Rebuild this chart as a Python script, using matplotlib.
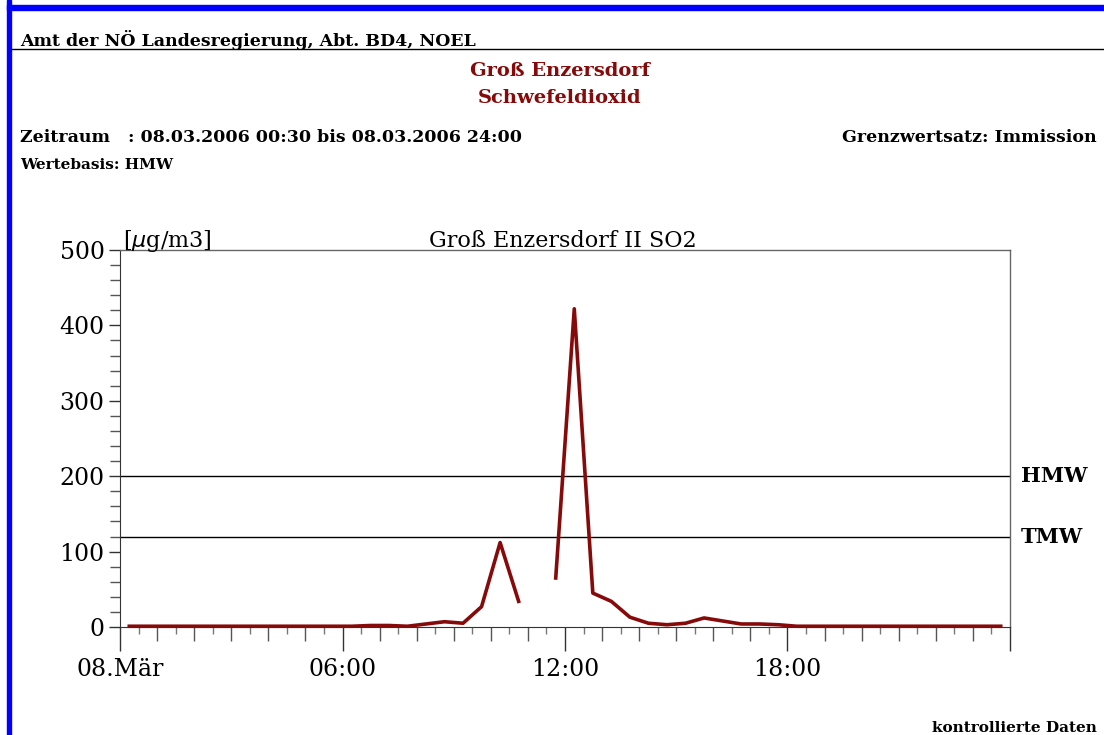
import matplotlib
matplotlib.use("Agg")
import matplotlib.pyplot as plt
import numpy as np
from matplotlib.patches import Rectangle
from matplotlib.lines import Line2D

# half-hour means (HMW), plotted at the middle of each interval
hours = np.arange(0.25, 24.0, 0.5)
so2 = [1, 1, 1, 1, 1, 1, 1, 1, 1, 1, 1, 1, 1,
       2, 2, 1, 4, 7, 5, 27, 112, 34, np.nan, 65, 422, 45, 34, 13,
       5, 3, 5, 12, 8, 4, 4, 3,
       1, 1, 1, 1, 1, 1, 1, 1, 1, 1, 1, 1]
limits = [200, 120]
limit_names = ["HMW", "TMW"]
y_ticks = [0, 100, 200, 300, 400, 500]
x_ticks = [0, 6, 12, 18, 24]
x_labels = ["08.Mär", "06:00", "12:00", "18:00", ""]

W, H = 1104, 735
DARKRED = "#870a0a"
SERIF = "DejaVu Serif"

plt.rcParams["font.family"] = SERIF

fig = plt.figure(figsize=(W / 100, H / 100), dpi=100)


def fx(x):
    return x / W


def fy(y):
    return 1 - y / H


# blue frame on the left and top
fig.patches.append(Rectangle((fx(7), 0), fx(4), 1, transform=fig.transFigure,
                             color="#0000ff", zorder=0))
fig.patches.append(Rectangle((fx(7), fy(10)), 1, 5 / H, transform=fig.transFigure,
                             color="#0000ff", zorder=0))
fig.lines.append(Line2D([fx(11), 1], [fy(49), fy(49)], transform=fig.transFigure,
                        color="black", lw=1))

# header texts
fig.text(fx(20), fy(40), "Amt der NÖ Landesregierung, Abt. BD4, NOEL",
         fontsize=12.5, fontweight="bold", va="center", ha="left")
fig.text(fx(560), fy(71), "Groß Enzersdorf", fontsize=14, fontweight="bold",
         color=DARKRED, va="center", ha="center")
fig.text(fx(560), fy(98), "Schwefeldioxid", fontsize=14, fontweight="bold",
         color=DARKRED, va="center", ha="center")
fig.text(fx(20), fy(138), "Zeitraum   : 08.03.2006 00:30 bis 08.03.2006 24:00",
         fontsize=12.5, fontweight="bold", va="center", ha="left")
fig.text(fx(1097), fy(138), "Grenzwertsatz: Immission",
         fontsize=12.5, fontweight="bold", va="center", ha="right")
fig.text(fx(20), fy(165), "Wertebasis: HMW",
         fontsize=11, fontweight="bold", va="center", ha="left")
fig.text(fx(1097), fy(728), "kontrollierte Daten",
         fontsize=11, fontweight="bold", va="center", ha="right")

# plot area
ax = fig.add_axes([fx(120), fy(627), fx(1010) - fx(120), (627 - 250) / H])
ax.plot(hours, so2, color=DARKRED, lw=2.6, zorder=3, clip_on=False)
for val, name in zip(limits, limit_names):
    ax.axhline(val, color="black", lw=1, zorder=2)
    ax.text(1.012, val, name, transform=ax.get_yaxis_transform(),
            fontsize=15, fontweight="bold", va="center", ha="left")

ax.set_xlim(0, 24)
ax.set_ylim(0, 500)

ax.set_yticks(y_ticks)
ax.set_yticks(np.arange(0, 501, 20), minor=True)
ax.set_xticks(x_ticks)
ax.set_xticklabels(x_labels)
ax.set_xticks(np.arange(0, 25, 1), minor=True)

ax.tick_params(axis="y", which="major", length=8, width=1, pad=3, labelsize=17,
               color="#333333")
ax.tick_params(axis="y", which="minor", length=7, width=1, color="#555555")
ax.tick_params(axis="x", which="major", length=17, width=1, pad=5, labelsize=17,
               color="#333333")
ax.tick_params(axis="x", which="minor", length=10, width=1, color="#555555")

# half-hour ticks on a second bottom axis
sec = ax.secondary_xaxis("bottom")
sec.set_xticks(np.arange(0.5, 24, 1))
sec.set_xticklabels([])
sec.tick_params(length=5, width=1, color="#777777")
sec.spines["bottom"].set_visible(False)

for side in ["top", "right"]:
    ax.spines[side].set_color("#666666")
    ax.spines[side].set_linewidth(1)
ax.spines["left"].set_color("#333333")
ax.spines["bottom"].set_color("#333333")

ax.text(0.003, 1.009, r"[$\mu$g/m3]", transform=ax.transAxes,
        fontsize=16, va="baseline", ha="left")
ax.text(0.498, 1.009, "Groß Enzersdorf II SO2", transform=ax.transAxes,
        fontsize=16, va="baseline", ha="center")

fig.savefig("out.png", dpi=100, facecolor="white")
